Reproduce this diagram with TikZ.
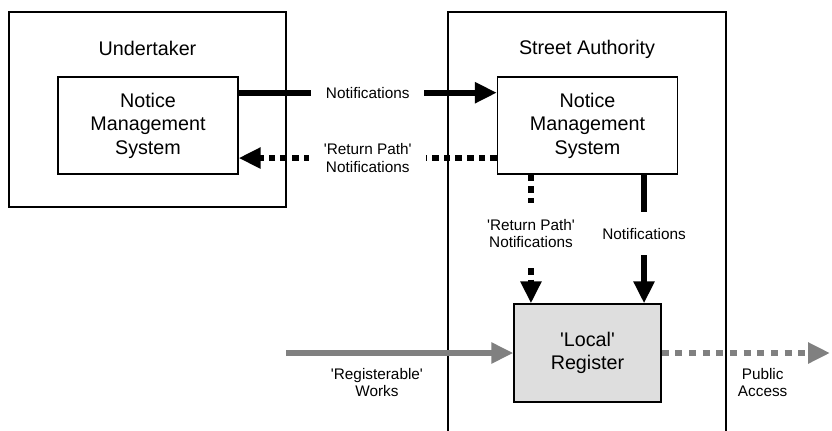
\documentclass[tikz,border=0pt]{standalone}
\usepackage{fontspec}
\setmainfont{Liberation Sans}
\usetikzlibrary{arrows.meta}
\newcommand{\q}{\textquotesingle}

\begin{document}
\begin{tikzpicture}[x=0.75pt, y=-0.75pt,
	box/.style={draw, line width=1pt, align=center, minimum width=135pt, minimum height=72.75pt,
		font=\fontsize{14.8}{17.6}\selectfont},
	title/.style={font=\fontsize{14.8}{17.6}\selectfont},
	flow/.style={line width=4.5pt, -{Triangle[length=16.5pt, width=15pt]}},
	ret/.style={flow, dash pattern=on 5pt off 3.75pt},
	pub/.style={flow, black!50},
	lbl/.style={fill=white, align=center, font=\fontsize{11.5}{13}\selectfont, inner xsep=11pt, inner ysep=12pt},
	note/.style={text=black, align=center, font=\fontsize{11.5}{13}\selectfont}]
			\useasboundingbox (0,0) rectangle (832,430);

			% the two organisations
			\node[draw, line width=1pt, minimum width=207.75pt, minimum height=146.25pt] (ut) at (147.5,109.5) {};
			\node[title] (utname) at (147.5,48) {Undertaker};
			\draw[line width=1pt] (448,432) |- (726,12) -- (726,432);
			\node[title] (saname) at (587,49) {Street Authority};

			\node[box] (unms) at (148,125.5) {Notice\\Management\\System};
			\node[box] (snms) at (587.5,125.5) {Notice\\Management\\System};
			\node[box, fill=black!13, minimum width=110.25pt, minimum height=73.5pt] (reg) at (587.5,353) {\q Local\q\\Register};

			\coordinate (works) at (286,353);
			\coordinate (public) at (830,353);

			\draw[flow] ([yshift=24.6pt]unms.east) -- node[lbl]{Notifications} ([yshift=24.6pt]snms.west);
			\draw[ret] ([yshift=-24.4pt]snms.west) -- node[lbl]{\q Return Path\q\\Notifications} ([yshift=-24.4pt]unms.east);
			\draw[ret] ([xshift=-42.4pt]snms.south) -- node[lbl, yshift=4pt]{\q Return Path\q\\Notifications} ([xshift=-42.4pt]reg.north);
			\draw[flow] ([xshift=42.4pt]snms.south) -- node[lbl, yshift=4pt]{Notifications} ([xshift=42.4pt]reg.north);

			\draw[pub] (works) -- node[note, below=6pt, pos=0.4]{\q Registerable\q\\Works} (reg);
			\draw[pub, dash pattern=on 5.25pt off 5pt] (reg) -- node[note, below=6pt, pos=0.6]{Public\\Access} (public);
		\end{tikzpicture}
\end{document}
